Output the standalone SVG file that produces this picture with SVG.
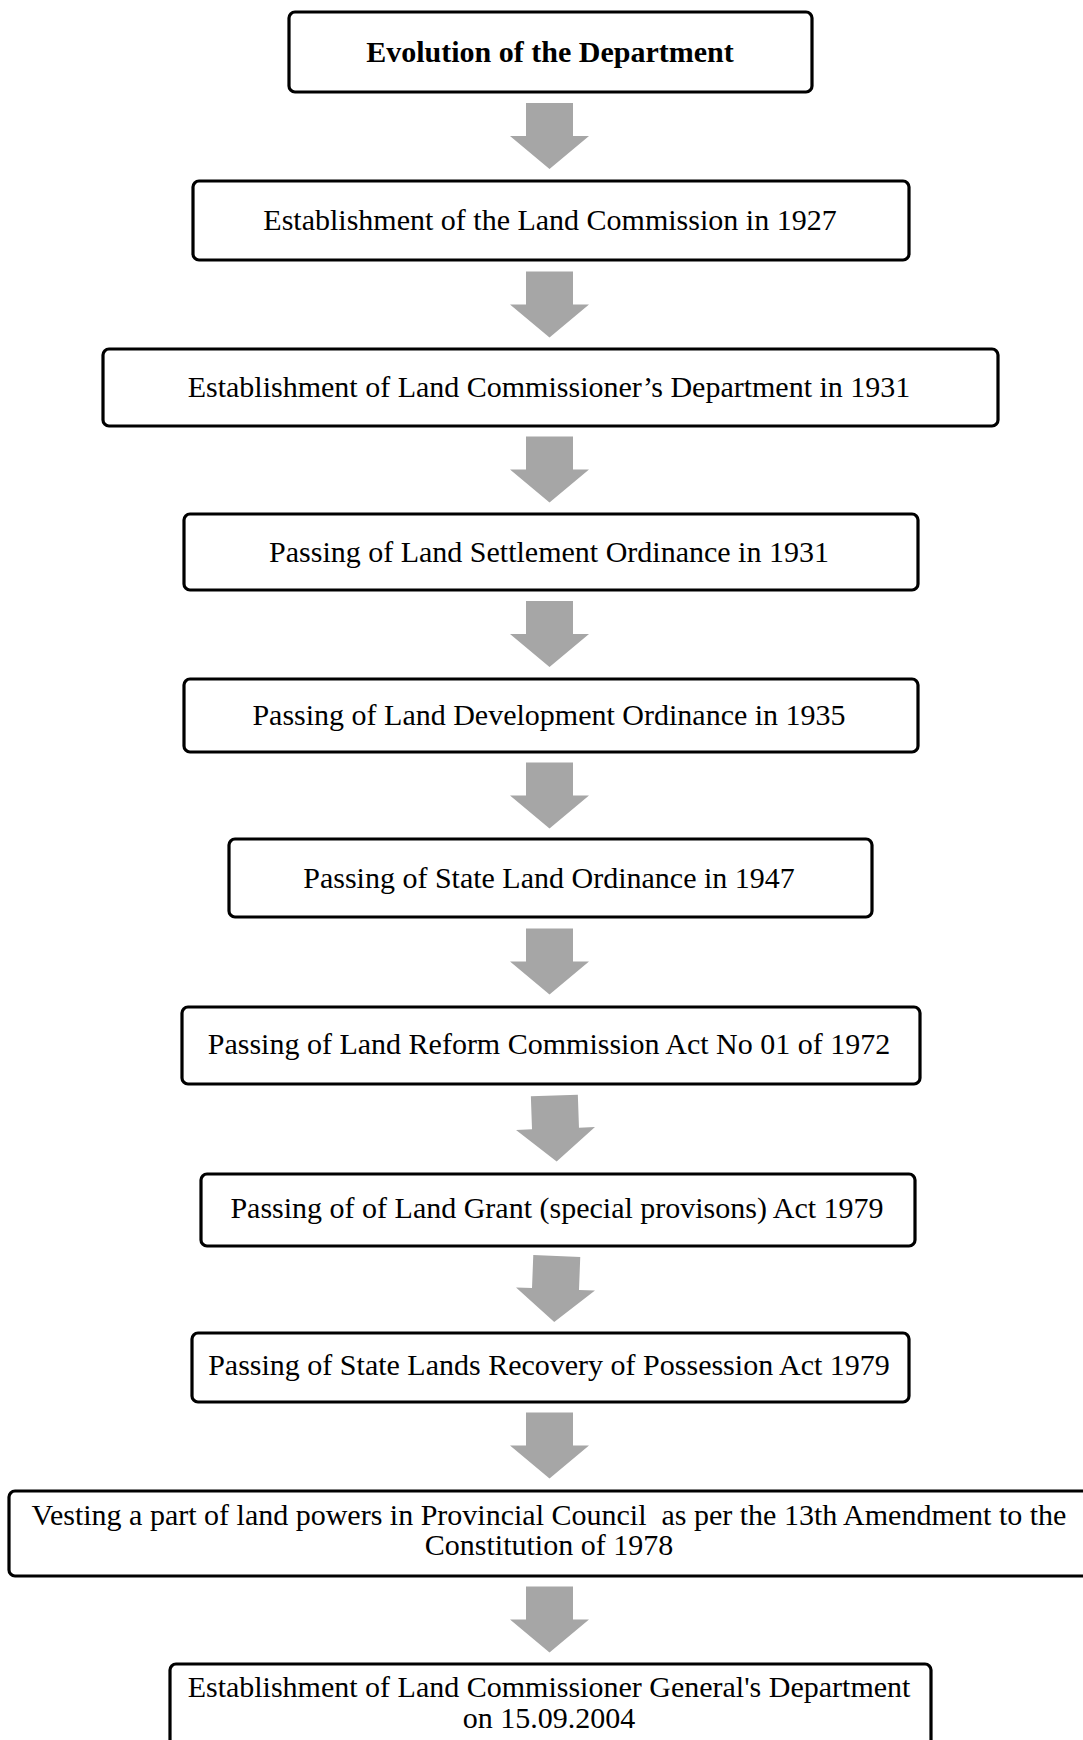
<svg xmlns="http://www.w3.org/2000/svg" width="1083" height="1740" viewBox="0 0 1083 1740">
<style>
.box{fill:#fff;stroke:#000;stroke-width:3.2}
.t{font-family:"Liberation Serif","Times New Roman",serif;font-size:30px;fill:#000;text-anchor:middle}
.b{font-weight:bold}
.arr{fill:#a6a6a6}
</style>
<defs>
<path id="arrow" d="M-23.5,-33 H23.5 V0 H39.5 L0,33 L-39.5,0 H-23.5 Z"/>
</defs>
<rect width="1083" height="1740" fill="#fff"/>
<g id="connectors">
<use href="#arrow" class="arr" x="549.5" y="136"/>
<use href="#arrow" class="arr" x="549.5" y="304.5"/>
<use href="#arrow" class="arr" x="549.5" y="469.5"/>
<use href="#arrow" class="arr" x="549.5" y="634"/>
<use href="#arrow" class="arr" x="549.5" y="795.5"/>
<use href="#arrow" class="arr" x="549.5" y="961.5"/>
<use href="#arrow" class="arr" transform="translate(555.5,1128.5) rotate(-2)"/>
<use href="#arrow" class="arr" transform="translate(555.5,1289) rotate(2.2)"/>
<use href="#arrow" class="arr" x="549.5" y="1445.5"/>
<use href="#arrow" class="arr" x="549.5" y="1619.5"/>
</g>
<g id="n1">
<rect class="box" x="289" y="12" width="523" height="80" rx="6"/>
<text class="t b" x="550" y="62">Evolution of the Department</text>
</g>
<g id="n2">
<rect class="box" x="193" y="181" width="716" height="79" rx="6"/>
<text class="t" x="550" y="230">Establishment of the Land Commission in 1927</text>
</g>
<g id="n3">
<rect class="box" x="103" y="349" width="895" height="77" rx="6"/>
<text class="t" x="549" y="397">Establishment of Land Commissioner’s Department in 1931</text>
</g>
<g id="n4">
<rect class="box" x="184" y="514" width="734" height="76" rx="6"/>
<text class="t" x="549" y="562">Passing of Land Settlement Ordinance in 1931</text>
</g>
<g id="n5">
<rect class="box" x="184" y="679" width="734" height="73" rx="6"/>
<text class="t" x="549" y="725">Passing of Land Development Ordinance in 1935</text>
</g>
<g id="n6">
<rect class="box" x="229" y="839" width="643" height="78" rx="6"/>
<text class="t" x="549" y="888">Passing of State Land Ordinance in 1947</text>
</g>
<g id="n7">
<rect class="box" x="182" y="1007" width="738" height="77" rx="6"/>
<text class="t" x="549" y="1054">Passing of Land Reform Commission Act No 01 of 1972</text>
</g>
<g id="n8">
<rect class="box" x="201" y="1174" width="714" height="72" rx="6"/>
<text class="t" x="557" y="1218">Passing of of Land Grant (special provisons) Act 1979</text>
</g>
<g id="n9">
<rect class="box" x="192" y="1333" width="717" height="69" rx="6"/>
<text class="t" x="549" y="1375">Passing of State Lands Recovery of Possession Act 1979</text>
</g>
<g id="n10">
<rect class="box" x="9" y="1491" width="1090" height="85" rx="6"/>
<text class="t" x="549" y="1525" xml:space="preserve">Vesting a part of land powers in Provincial Council  as per the 13th Amendment to the</text>
<text class="t" x="549" y="1555">Constitution of 1978</text>
</g>
<g id="n11">
<rect class="box" x="170" y="1664" width="761" height="90" rx="6"/>
<text class="t" x="549" y="1697">Establishment of Land Commissioner General's Department</text>
<text class="t" x="549" y="1728">on 15.09.2004</text>
</g>
</svg>
